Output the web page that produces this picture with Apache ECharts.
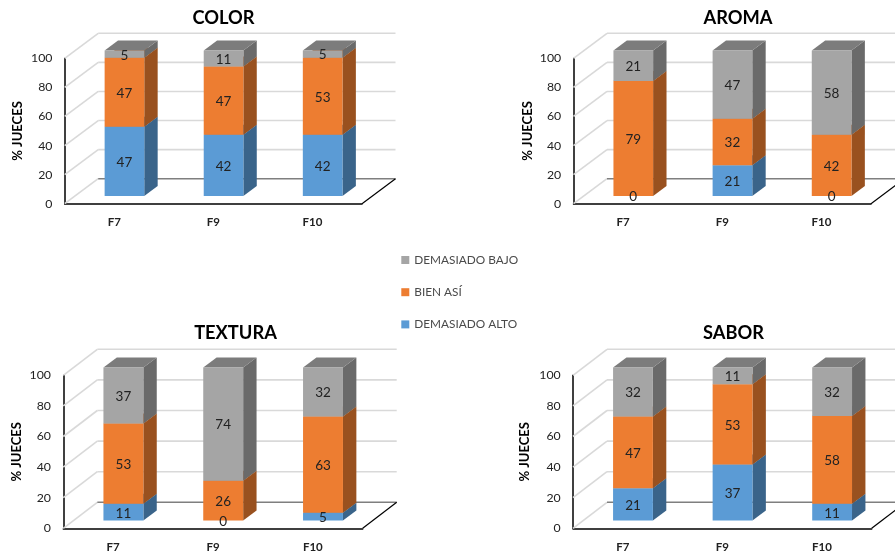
<!DOCTYPE html>
<html>
<head>
<meta charset="utf-8">
<style>html,body{margin:0;padding:0;background:#fff}#c{width:895px;height:555px}</style>
<script src="https://cdn.jsdelivr.net/npm/echarts@6/dist/echarts.min.js"></script>
</head>
<body>
<div id="c"></div>
<script>
// ---- data ----
const categories = ['F7', 'F9', 'F10'];
const yTicks = [0, 20, 40, 60, 80, 100];
const seriesNames = ['DEMASIADO ALTO', 'BIEN ASÍ', 'DEMASIADO BAJO'];
const legendOrder = ['DEMASIADO BAJO', 'BIEN ASÍ', 'DEMASIADO ALTO'];
const colorAlto = [47, 42, 42];
const colorBien = [47, 47, 53];
const colorBajo = [5, 11, 5];
const aromaAlto = [0, 21, 0];
const aromaBien = [79, 32, 42];
const aromaBajo = [21, 47, 58];
const texturaAlto = [11, 0, 5];
const texturaBien = [53, 26, 63];
const texturaBajo = [37, 74, 32];
const saborAlto = [21, 37, 11];
const saborBien = [47, 53, 58];
const saborBajo = [32, 11, 32];

// ---- layout and style ----
const FONT = 'Lato';
const faces = [
  { front: '#5b9bd5', side: '#3a648a', top: '#47779f' },
  { front: '#ed7d31', side: '#99511f', top: '#b35f25' },
  { front: '#a5a5a5', side: '#6a6a6a', top: '#7c7c7c' }
];
const BAR = { dx: 10.2, dy: -7.8, sx: 13.4, sy: -10, widthRatio: 0.4, labelDy: 1 };
const panels = [
  { title: 'COLOR', stacks: [colorAlto, colorBien, colorBajo], left: 64.7, right: 362, top: 58.3, bottom: 203.7, titleX: 218.5, titleY: 4, nameGap: 40, wallDx: 33.5, wallDy: -25 },
  { title: 'AROMA', stacks: [aromaAlto, aromaBien, aromaBajo], left: 573.5, right: 871, top: 58.3, bottom: 203.7, titleX: 733, titleY: 4, nameGap: 39, wallDx: 33.5, wallDy: -25 },
  { title: 'TEXTURA', stacks: [texturaAlto, texturaBien, texturaBajo], left: 63.3, right: 362.7, top: 375.3, bottom: 528.3, titleX: 230.5, titleY: 319, nameGap: 40, wallDx: 34, wallDy: -26 },
  { title: 'SABOR', stacks: [saborAlto, saborBien, saborBajo], left: 573, right: 871.7, top: 375.3, bottom: 528.3, titleX: 728.5, titleY: 319, nameGap: 41.5, wallDx: 34, wallDy: -26 }
];

function poly(points, fill) {
  return { type: 'polygon', shape: { points }, style: { fill, stroke: null } };
}
function line(points, stroke, width) {
  return { type: 'polyline', shape: { points }, style: { stroke, lineWidth: width, fill: null } };
}

const W = 895, H = 555;
const option = {
  animation: false,
  backgroundColor: '#fff',
  textStyle: { fontFamily: FONT },
  title: [], grid: [], xAxis: [], yAxis: [], series: [],
  legend: {
    data: legendOrder, orient: 'vertical', left: 396.3, top: 249,
    icon: 'rect', itemWidth: 8, itemHeight: 8, itemGap: 20.2, selectedMode: false,
    textStyle: { fontFamily: FONT, fontSize: 11.8, color: '#4a4a4a' }
  }
};

panels.forEach((p, idx) => {
  option.title.push({
    text: p.title, left: p.titleX, top: p.titleY, textAlign: 'center',
    textStyle: { fontFamily: FONT, fontSize: 18.3, fontWeight: 'bold', color: '#000' }
  });
  option.grid.push({ left: p.left, top: p.top, width: p.right - p.left, height: p.bottom - p.top });
  option.xAxis.push({
    type: 'category', gridIndex: idx, data: categories,
    axisLine: { lineStyle: { color: '#000', width: 1.5 } }, axisTick: { show: false },
    axisLabel: { margin: 13, fontFamily: FONT, fontSize: 11.5, fontWeight: 'bold', color: '#222' }
  });
  option.yAxis.push({
    type: 'value', gridIndex: idx, min: 0, max: 100, interval: 20,
    name: '% JUECES', nameLocation: 'middle', nameGap: p.nameGap, nameRotate: 90,
    nameTextStyle: { fontFamily: FONT, fontSize: 13, fontWeight: 'bold', color: '#000' },
    splitLine: { show: false }, axisTick: { show: false },
    axisLine: { show: true, lineStyle: { color: '#000', width: 1.5 } },
    axisLabel: { margin: 12.3, padding: [3, 0, 0, 0], fontFamily: FONT, fontSize: 12.3, color: '#222' }
  });
  // back wall and floor
  option.series.push({
    type: 'custom', xAxisIndex: idx, yAxisIndex: idx, silent: true, z: 1,
    data: yTicks.map(v => [0, v]),
    encode: { x: 0, y: 1 },
    renderItem(params, api) {
      const cs = params.coordSys;
      const v = api.value(1);
      const y = api.coord([0, v])[1];
      const xL = cs.x, xR = cs.x + cs.width;
      const kids = [
        line([[xL, y], [xL + p.wallDx, y + p.wallDy]], '#d9d9d9', 1.6),
        line([[xL + p.wallDx, y + p.wallDy], [xR + p.wallDx, y + p.wallDy]], v === 0 ? '#7f7f7f' : '#d9d9d9', 1.6)
      ];
      if (v === 0) kids.push(line([[xR, y], [xR + p.wallDx, y + p.wallDy]], '#000', 1.2));
      return { type: 'group', children: kids };
    }
  });
  // stacked 3D segments (100% stacked, as in the source chart)
  p.stacks.forEach((vals, s) => {
    option.series.push({
      type: 'custom', name: seriesNames[s], xAxisIndex: idx, yAxisIndex: idx, z: 2,
      itemStyle: { color: faces[s].front },
      data: vals.map((v, i) => [i, v]),
      encode: { x: 0, y: 1 },
      renderItem(params, api) {
        const i = api.value(0), v = api.value(1);
        const total = p.stacks.reduce((a, st) => a + st[i], 0);
        let below = 0;
        for (let k = 0; k < s; k++) below += p.stacks[k][i];
        const a = api.coord([i, below / total * 100]);
        const b = api.coord([i, (below + v) / total * 100]);
        const w = api.size([1, 0])[0] * BAR.widthRatio;
        const x0 = a[0] + BAR.dx - w / 2, x1 = x0 + w;
        const yB = a[1] + BAR.dy, yT = b[1] + BAR.dy;
        const f = faces[s];
        const kids = [];
        if (v > 0) {
          kids.push(poly([[x1, yB], [x1 + BAR.sx, yB + BAR.sy], [x1 + BAR.sx, yT + BAR.sy], [x1, yT]], f.side));
          kids.push(poly([[x0, yT], [x1, yT], [x1 + BAR.sx, yT + BAR.sy], [x0 + BAR.sx, yT + BAR.sy]], f.top));
          kids.push(poly([[x0, yB], [x1, yB], [x1, yT], [x0, yT]], f.front));
        }
        kids.push({
          type: 'text', z2: 100,
          style: {
            x: (x0 + x1) / 2, y: (yB + yT) / 2 + BAR.labelDy, text: String(v), align: 'center', verticalAlign: 'middle',
            fontFamily: FONT, fontSize: 13.5, fill: '#222'
          }
        });
        return { type: 'group', children: kids };
      }
    });
  });
});

echarts.init(document.getElementById('c'), null, { renderer: 'canvas', width: W, height: H }).setOption(option);
</script>
</body>
</html>
